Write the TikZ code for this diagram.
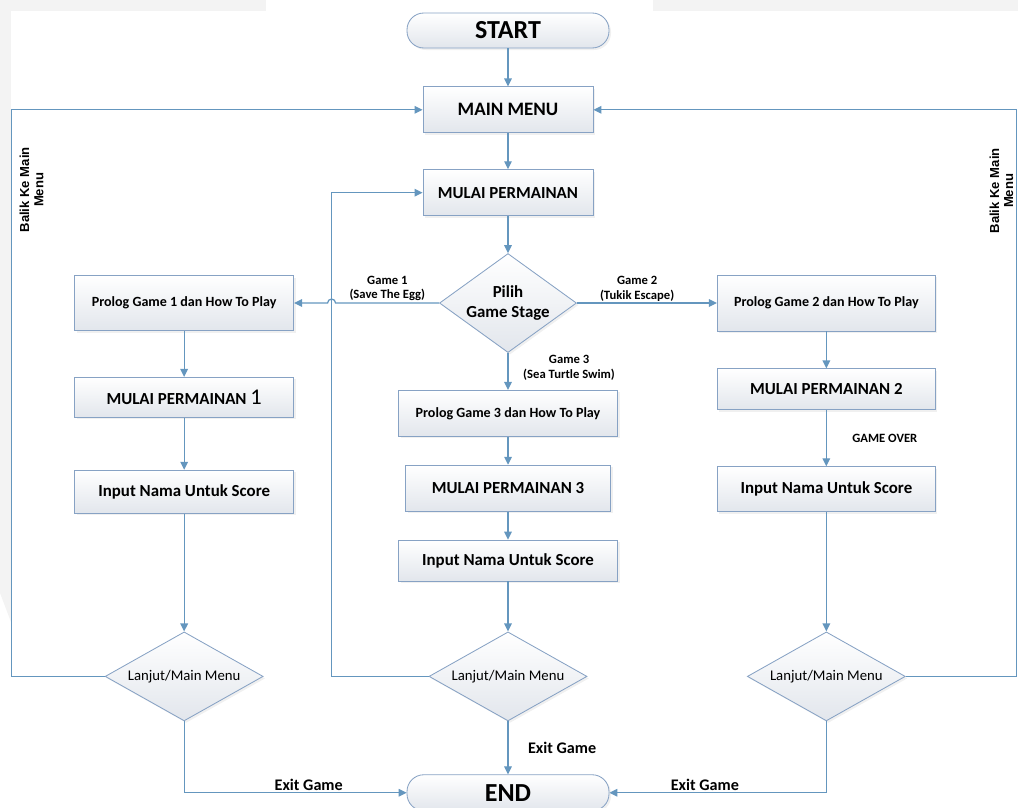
\documentclass[tikz,border=0pt]{standalone}
\usepackage{fontspec}
\setmainfont{Carlito}
\newfontfamily\arialfont{Liberation Sans}
\usepackage{xcolor}
\usetikzlibrary{positioning}
\usetikzlibrary{shapes.geometric,arrows.meta,shadows}

\definecolor{linecol}{RGB}{100,150,190}
\definecolor{boxcol}{RGB}{135,162,196}
\definecolor{fillcol}{RGB}{226,230,236}
\definecolor{pagegray}{RGB}{243,243,243}

\tikzset{
  flow/.style={draw=linecol, line width=0.9pt, -{Triangle[length=0.2cm,width=0.19cm]}},
  box/.style={draw=boxcol, line width=0.6pt, top color=white, bottom color=fillcol,
    drop shadow={opacity=0.12, shadow xshift=0.05cm, shadow yshift=-0.05cm},
    inner sep=2pt, align=center},
  terminal/.style={box, rounded corners=0.42cm, minimum width=5.05cm,
    font=\bfseries\fontsize{18.5}{21}\selectfont},
  choice/.style={box, diamond, inner sep=0pt},
  lbl/.style={font=\bfseries\fontsize{9}{10.5}\selectfont, align=center, inner sep=1pt},
  exitlbl/.style={font=\bfseries\fontsize{11.5}{13}\selectfont, inner sep=1pt},
  baliklbl/.style={font=\arialfont\bfseries\fontsize{9.3}{10}\selectfont, align=center, inner sep=0pt}
}

\begin{document}
\begin{tikzpicture}
    \fill[pagegray] (0,0) rectangle (6.65,-0.275);
    \fill[pagegray] (16.325,0) rectangle (25.45,-0.275);
    \fill[pagegray] (0,0) -- (0.275,0) -- (0.275,-15.55) -- (0,-14.825) -- cycle;
    \useasboundingbox (0,0) rectangle (25.45,-20.2);

    \node(start) [terminal, minimum height=0.875cm] at (12.7,-0.7625) {START};
    \node(mainmenu) [box, minimum width=4.25cm, minimum height=1.15cm, below = 0.95cm of start,
      font=\bfseries\fontsize{13.5}{16}\selectfont] {MAIN MENU};
    \node(mulai) [box, minimum width=4.25cm, minimum height=1.15cm, below = 0.9cm of mainmenu,
      font=\bfseries\fontsize{12}{14}\selectfont] {MULAI PERMAINAN};
    \node(pilih) [choice, aspect=1.38, minimum width=3.425cm, minimum height=2.475cm, below = 0.925cm of mulai,
      font=\bfseries\fontsize{12}{14.5}\selectfont] {Pilih\\Game Stage};

    \node(prolog1) [box, minimum width=5.475cm, minimum height=1.375cm, left = 3.625cm of pilih,
      font=\bfseries\fontsize{10}{12}\selectfont] {Prolog Game 1 dan How To Play};
    \node(mulai1) [box, minimum width=5.475cm, minimum height=1cm, below = 1.15cm of prolog1,
      font=\bfseries\fontsize{12}{14}\selectfont] {MULAI PERMAINAN {\mdseries\fontsize{16}{16}\selectfont 1}};
    \node(input1) [box, minimum width=5.475cm, minimum height=1.075cm, below = 1.3cm of mulai1,
      font=\bfseries\fontsize{12}{14}\selectfont] {Input Nama Untuk Score};

    \node(prolog2) [box, minimum width=5.45cm, minimum height=1.4cm, right = 3.5cm of pilih,
      font=\bfseries\fontsize{10}{12}\selectfont] {Prolog Game 2 dan How To Play};
    \node(mulai2) [box, minimum width=5.45cm, minimum height=1.025cm, below = 0.925cm of prolog2,
      font=\bfseries\fontsize{12}{14}\selectfont] {MULAI PERMAINAN 2};
    \node(input2) [box, minimum width=5.45cm, minimum height=1.125cm, below = 1.4cm of mulai2,
      font=\bfseries\fontsize{12}{14}\selectfont] {Input Nama Untuk Score};

    \node(prolog3) [box, minimum width=5.475cm, minimum height=1.15cm, below = 0.925cm of pilih,
      font=\bfseries\fontsize{10}{12}\selectfont] {Prolog Game 3 dan How To Play};
    \node(mulai3) [box, minimum width=5.125cm, minimum height=1.15cm, below = 0.7cm of prolog3,
      font=\bfseries\fontsize{12}{14}\selectfont] {MULAI PERMAINAN 3};
    \node(input3) [box, minimum width=5.475cm, minimum height=1.025cm, below = 0.7cm of mulai3,
      font=\bfseries\fontsize{12}{14}\selectfont] {Input Nama Untuk Score};

    \node(lanjut3) [choice, aspect=1.78, minimum width=3.95cm, minimum height=2.225cm, below = 1.25cm of input3,
      font=\fontsize{10.5}{12}\selectfont] {Lanjut/Main Menu};
    \node(lanjut1) [choice, aspect=1.78, minimum width=3.95cm, minimum height=2.225cm,
      font=\fontsize{10.5}{12}\selectfont] at (input1 |- lanjut3) {Lanjut/Main Menu};
    \node(lanjut2) [choice, aspect=1.78, minimum width=3.95cm, minimum height=2.225cm,
      font=\fontsize{10.5}{12}\selectfont] at (input2 |- lanjut3) {Lanjut/Main Menu};
    \node(end) [terminal, minimum height=0.9cm, below = 1.325cm of lanjut3] {END};

    \coordinate(lefttop) at ([xshift=-10.275cm]mainmenu.west);
    \coordinate(midtop) at ([xshift=-2.275cm]mulai.west);
    \coordinate(righttop) at ([xshift=10.575cm]mainmenu.east);

    \draw [flow] (start) -- (mainmenu);
    \draw [flow] (mainmenu) -- (mulai);
    \draw [flow] (mulai) -- (pilih);
    \draw [flow] (lanjut1.west) -| (lefttop) -- (mainmenu.west);
    \draw [flow] (lanjut3.west) -| (midtop) -- (mulai.west);
    \draw [flow] (lanjut2.east) -| (righttop) -- (mainmenu.east);

    \draw [flow] (pilih.west) -- node[lbl, above] {Game 1\\(Save The Egg)} ([xshift=0.1cm]midtop |- pilih.west)
      arc[start angle=0, end angle=180, radius=0.1cm] -- (prolog1.east);
    \draw [flow] (pilih.east) -- node[lbl, above, pos=0.43] {Game 2\\(Tukik Escape)} (prolog2.west);
    \draw [flow] (pilih.south) -- node[lbl, right=0.33cm, pos=0.4] {Game 3\\(Sea Turtle Swim)} (prolog3.north);

    \draw [flow] (prolog1) -- (mulai1);
    \draw [flow] (mulai1) -- (input1);
    \draw [flow] (input1) -- (lanjut1);
    \draw [flow] (prolog2) -- (mulai2);
    \draw [flow] (mulai2) -- node[lbl, right=0.6cm] {GAME OVER} (input2);
    \draw [flow] (input2) -- (lanjut2);
    \draw [flow] (prolog3) -- (mulai3);
    \draw [flow] (mulai3) -- (input3);
    \draw [flow] (input3) -- (lanjut3);

    \draw [flow] (lanjut1.south) |- node[exitlbl, above, pos=0.78] {Exit Game} (end.west);
    \draw [flow] (lanjut2.south) |- node[exitlbl, above, pos=0.78] {Exit Game} (end.east);
    \draw [flow] (lanjut3.south) -- node[exitlbl, right=0.45cm] {Exit Game} (end.north);

    \node(balikleft) [baliklbl, rotate=90] at ([xshift=0.5cm, yshift=-2cm]lefttop) {Balik Ke Main\\Menu};
    \node(balikright) [baliklbl, rotate=90] at ([xshift=-0.375cm, yshift=-2.025cm]righttop) {Balik Ke Main\\Menu};
  \end{tikzpicture}
\end{document}
